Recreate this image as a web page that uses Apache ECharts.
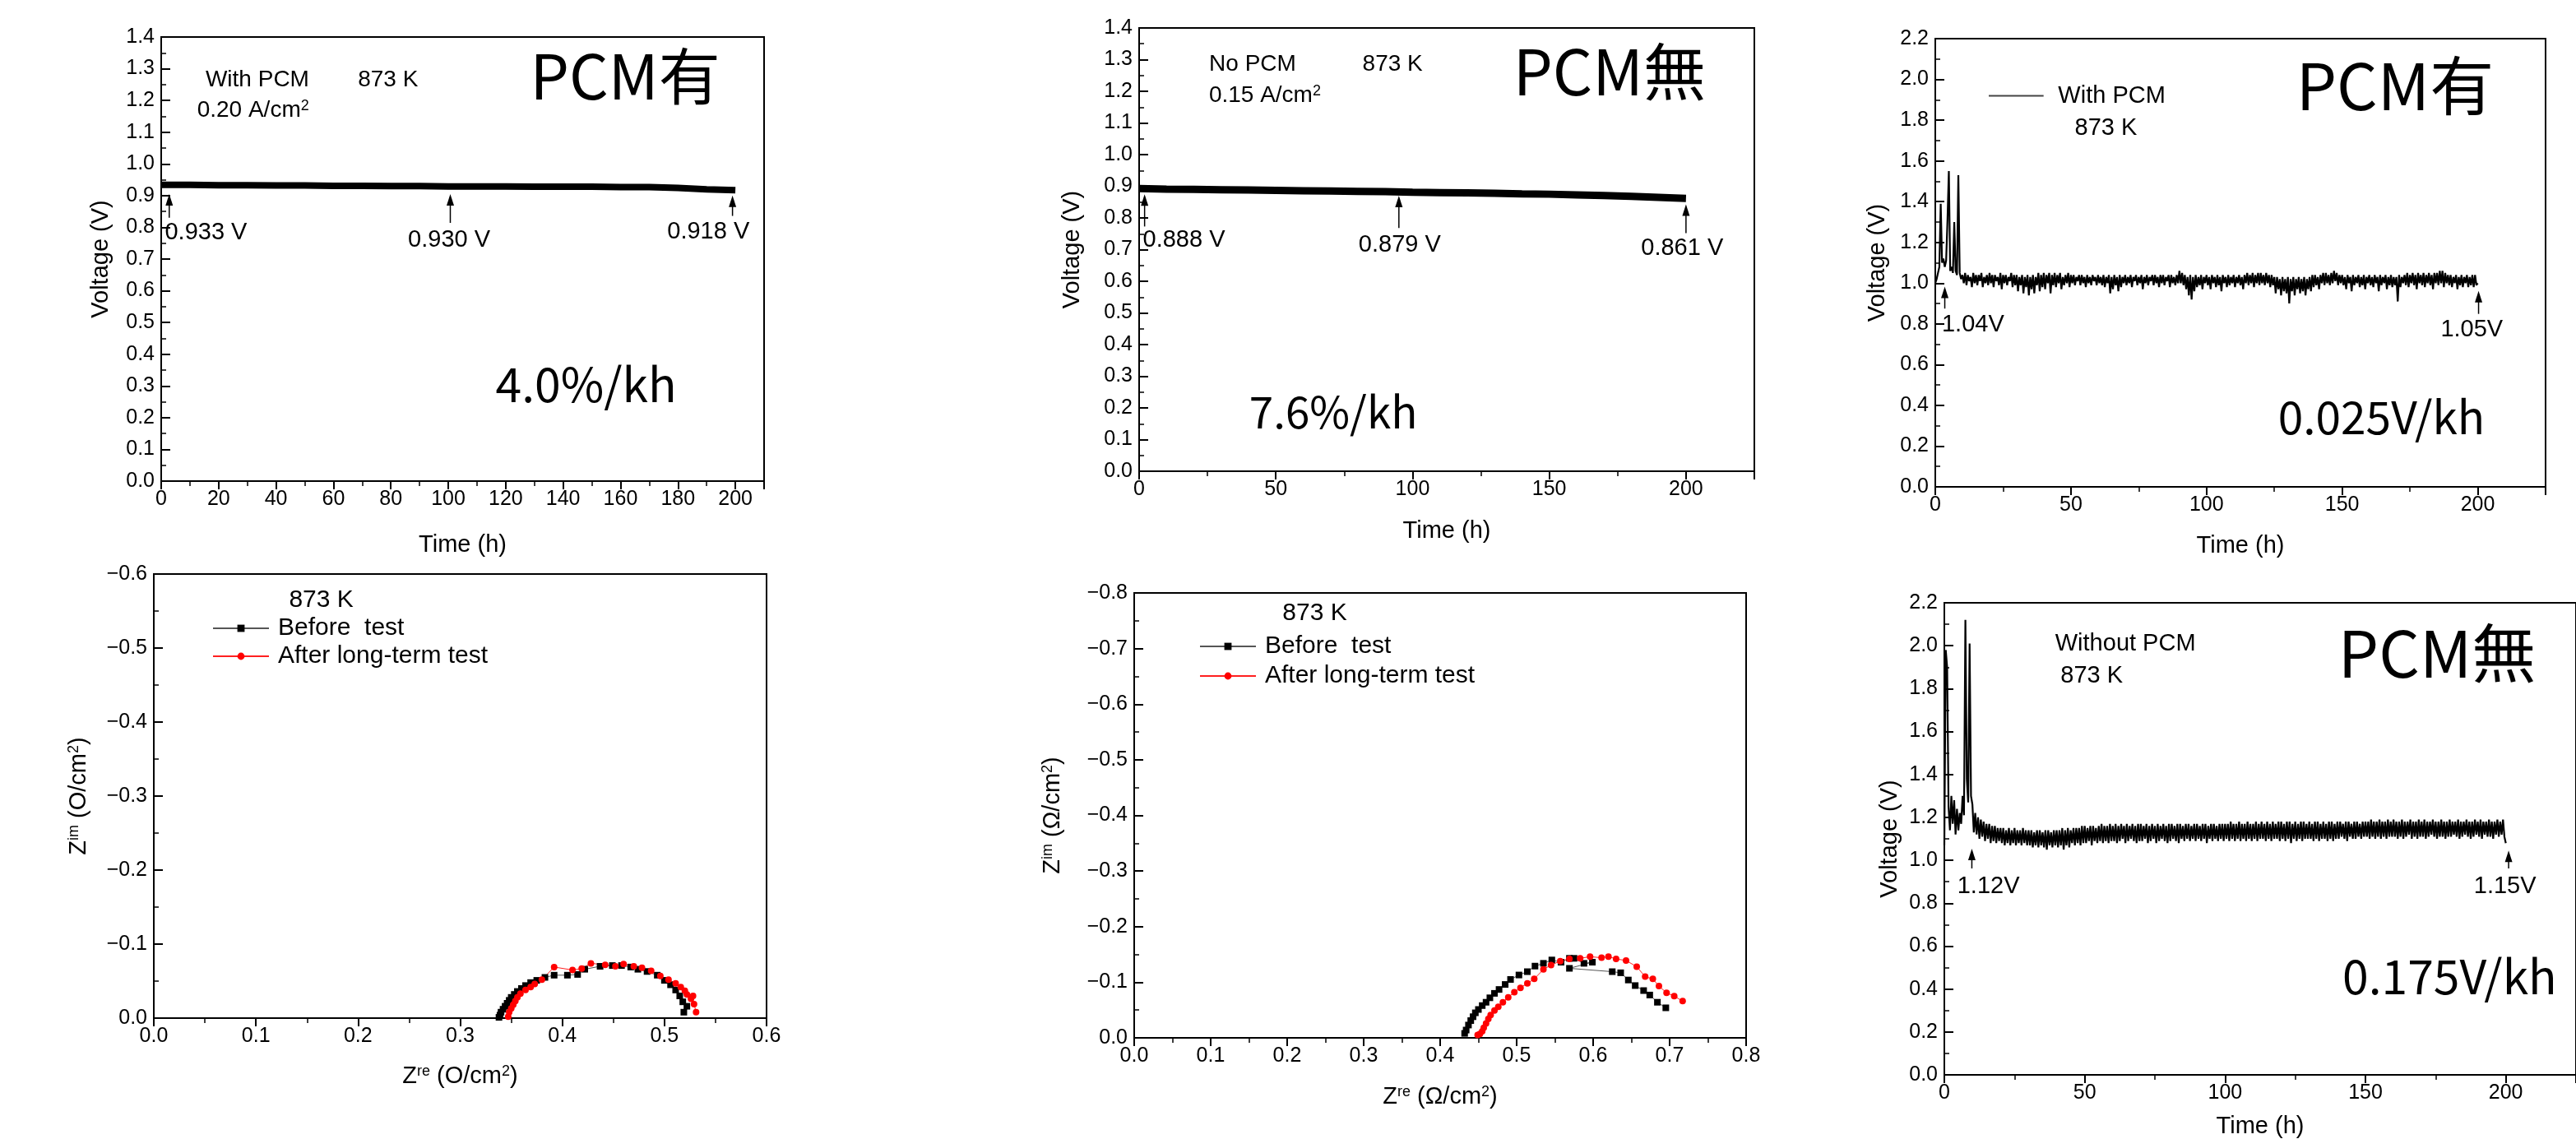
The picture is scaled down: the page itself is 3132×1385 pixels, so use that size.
<!DOCTYPE html>
<html><head><meta charset="utf-8">
<script src="https://cdn.jsdelivr.net/npm/echarts/dist/echarts.min.js"></script>
<style>html,body{margin:0;padding:0;background:#fff}#c{width:3132px;height:1385px}</style>
</head><body><div id="c"></div>
<script>
// ---------------- DATA ----------------
// Panel 1: With PCM, 0.20 A/cm2 (time h, voltage V)
const p1Time = [0,10,20,30,40,50,60,70,80,90,100,110,120,130,140,150,160,170,180,190,200];
const p1Volt = [0.934,0.934,0.933,0.933,0.932,0.932,0.931,0.931,0.930,0.930,0.929,0.929,0.929,0.928,0.928,0.928,0.927,0.927,0.924,0.920,0.917];
// Panel 2: No PCM, 0.15 A/cm2
const p2Time = [0,10,20,30,40,50,60,70,80,90,100,110,120,130,140,150,160,170,180,190,200];
const p2Volt = [0.893,0.891,0.890,0.889,0.888,0.887,0.886,0.885,0.884,0.883,0.881,0.880,0.879,0.878,0.876,0.875,0.873,0.871,0.868,0.865,0.862];
// Panel 3: With PCM, noisy record sampled every 0.5 h from 0 to 200 h
const SAMPLE_STEP_H = 0.5;
const p3Volt = (
"1.00 1.02 1.05 1.08 1.39 1.10 1.12 1.08 1.11 1.31 1.55 1.06 1.08 1.05 1.30 1.06 1.04 1.53 1.05 1.02 " +
"1.04 1.00 1.05 0.99 1.04 1.01 1.03 0.98 1.05 1.00 1.04 0.99 1.04 1.01 1.05 0.98 1.03 1.00 1.04 0.99 " +
"1.05 1.00 1.04 0.98 1.04 1.01 1.03 0.99 1.05 0.97 1.04 1.00 1.04 0.99 1.03 1.01 1.05 0.98 1.04 0.99 " +
"1.04 0.96 1.03 0.99 1.04 0.95 1.03 0.98 1.04 0.94 1.03 0.97 1.04 0.95 1.03 0.99 1.05 0.96 1.04 0.98 " +
"1.05 0.97 1.04 1.00 1.05 0.95 1.04 0.99 1.05 0.98 1.04 1.00 1.05 0.97 1.03 0.99 1.04 1.00 1.05 0.98 " +
"1.04 1.00 1.04 0.99 1.03 1.01 1.04 0.99 1.04 1.00 1.03 0.98 1.04 1.00 1.03 0.99 1.04 1.01 1.03 0.99 " +
"1.04 1.00 1.03 0.99 1.04 0.98 1.03 1.00 1.04 0.95 1.03 0.97 1.04 0.99 1.03 0.96 1.04 0.98 1.03 1.00 " +
"1.04 0.99 1.03 1.00 1.04 0.98 1.03 1.01 1.04 0.99 1.03 1.00 1.04 0.97 1.03 1.00 1.04 0.99 1.03 1.01 " +
"1.04 0.99 1.04 1.00 1.03 0.98 1.04 1.00 1.04 0.99 1.03 1.01 1.04 0.98 1.04 1.00 1.03 0.99 1.04 1.00 " +
"1.06 1.00 1.05 0.99 1.04 0.97 1.03 0.94 1.04 0.92 1.03 0.96 1.04 0.98 1.03 0.99 1.04 0.97 1.03 1.00 " +
"1.04 0.99 1.03 0.97 1.04 1.00 1.03 0.98 1.04 0.99 1.03 0.96 1.04 1.00 1.03 0.98 1.04 0.99 1.03 1.00 " +
"1.04 0.98 1.03 1.00 1.04 0.99 1.03 0.97 1.04 1.00 1.05 0.99 1.04 1.00 1.05 0.98 1.04 1.00 1.05 0.99 " +
"1.05 1.00 1.04 0.99 1.05 1.00 1.04 0.98 1.04 0.99 1.03 0.95 1.03 0.97 1.02 0.94 1.03 0.96 1.02 0.95 " +
"1.03 0.90 1.02 0.96 1.03 0.94 1.02 0.97 1.03 0.95 1.02 0.96 1.03 0.94 1.02 0.97 1.03 0.96 1.04 0.98 " +
"1.04 0.99 1.03 0.97 1.04 1.00 1.05 0.99 1.05 1.00 1.04 0.99 1.05 1.00 1.06 1.01 1.05 0.99 1.04 1.00 " +
"1.04 0.99 1.03 0.97 1.04 1.00 1.03 0.96 1.04 0.99 1.03 1.00 1.04 0.98 1.03 0.99 1.04 0.97 1.03 1.00 " +
"1.04 0.99 1.03 0.98 1.04 1.00 1.03 0.96 1.04 0.99 1.03 1.00 1.04 0.97 1.03 0.99 1.04 0.98 1.03 0.99 " +
"1.03 0.91 1.04 0.98 1.03 1.00 1.04 0.99 1.05 0.98 1.04 1.00 1.05 0.99 1.04 0.97 1.05 1.00 1.04 0.99 " +
"1.05 0.98 1.04 1.00 1.05 0.99 1.04 0.97 1.05 1.00 1.05 0.99 1.06 1.00 1.06 0.98 1.05 1.00 1.04 0.99 " +
"1.04 0.98 1.03 1.00 1.04 0.97 1.03 0.99 1.04 0.98 1.03 1.00 1.04 0.98 1.03 0.99 1.04 0.98 1.04 0.99 " +
"1.00").trim().split(/\s+/).map(Number);
// Panel 6: Without PCM, noisy record sampled every 0.5 h
const p6Volt = (
"1.07 1.98 1.90 1.25 1.14 1.30 1.17 1.28 1.12 1.24 1.14 1.22 1.17 1.30 1.21 2.12 1.38 1.27 2.01 1.30 " +
"1.26 1.13 1.22 1.12 1.20 1.10 1.19 1.11 1.18 1.09 1.17 1.10 1.17 1.08 1.16 1.09 1.16 1.08 1.15 1.09 " +
"1.15 1.08 1.15 1.07 1.14 1.08 1.15 1.07 1.14 1.08 1.15 1.07 1.14 1.08 1.14 1.07 1.15 1.08 1.14 1.07 " +
"1.14 1.07 1.14 1.06 1.13 1.07 1.14 1.06 1.14 1.07 1.13 1.06 1.14 1.05 1.14 1.07 1.13 1.06 1.14 1.07 " +
"1.14 1.06 1.14 1.07 1.15 1.05 1.14 1.07 1.15 1.06 1.14 1.08 1.15 1.07 1.15 1.08 1.15 1.07 1.16 1.08 " +
"1.16 1.08 1.15 1.09 1.16 1.07 1.16 1.09 1.15 1.08 1.16 1.09 1.17 1.08 1.16 1.09 1.16 1.08 1.17 1.09 " +
"1.16 1.09 1.17 1.08 1.16 1.09 1.17 1.10 1.16 1.08 1.17 1.09 1.16 1.10 1.17 1.09 1.16 1.08 1.17 1.09 " +
"1.17 1.09 1.16 1.10 1.17 1.08 1.16 1.09 1.17 1.10 1.16 1.08 1.17 1.09 1.16 1.10 1.17 1.09 1.16 1.08 " +
"1.17 1.09 1.17 1.10 1.16 1.09 1.17 1.08 1.17 1.10 1.16 1.09 1.17 1.10 1.17 1.09 1.16 1.10 1.17 1.09 " +
"1.17 1.10 1.16 1.09 1.17 1.10 1.17 1.08 1.16 1.10 1.17 1.09 1.17 1.10 1.16 1.09 1.17 1.10 1.17 1.09 " +
"1.17 1.10 1.17 1.09 1.18 1.10 1.17 1.09 1.17 1.10 1.18 1.09 1.17 1.10 1.17 1.09 1.18 1.10 1.17 1.09 " +
"1.17 1.10 1.18 1.09 1.17 1.10 1.18 1.10 1.17 1.09 1.18 1.10 1.17 1.09 1.18 1.10 1.17 1.10 1.18 1.09 " +
"1.18 1.10 1.17 1.09 1.18 1.10 1.18 1.08 1.17 1.10 1.18 1.09 1.17 1.10 1.18 1.09 1.18 1.10 1.17 1.10 " +
"1.18 1.10 1.17 1.09 1.18 1.10 1.18 1.09 1.17 1.10 1.18 1.10 1.17 1.09 1.18 1.10 1.18 1.09 1.17 1.10 " +
"1.18 1.10 1.18 1.11 1.17 1.10 1.18 1.09 1.18 1.11 1.17 1.10 1.18 1.10 1.18 1.11 1.17 1.10 1.18 1.11 " +
"1.18 1.11 1.18 1.10 1.19 1.11 1.18 1.10 1.18 1.11 1.19 1.10 1.18 1.11 1.18 1.10 1.19 1.11 1.18 1.11 " +
"1.19 1.11 1.18 1.10 1.18 1.11 1.19 1.10 1.18 1.11 1.18 1.12 1.19 1.10 1.18 1.11 1.18 1.10 1.19 1.11 " +
"1.18 1.11 1.19 1.10 1.18 1.11 1.18 1.12 1.19 1.11 1.18 1.10 1.18 1.11 1.19 1.11 1.18 1.10 1.18 1.11 " +
"1.19 1.11 1.18 1.12 1.18 1.11 1.19 1.10 1.18 1.11 1.18 1.12 1.19 1.11 1.18 1.10 1.18 1.11 1.19 1.12 " +
"1.18 1.11 1.19 1.10 1.18 1.12 1.18 1.11 1.19 1.11 1.18 1.10 1.18 1.12 1.19 1.11 1.18 1.12 1.19 1.11 " +
"1.08").trim().split(/\s+/).map(Number);
// Panel 4: Nyquist, With PCM (Zre, Zim in ohm/cm2)
const p4BeforeRe = [0.338,0.339,0.340,0.342,0.344,0.346,0.348,0.350,0.353,0.356,0.360,0.364,0.369,0.375,0.383,0.392,0.405,0.415,0.422,0.437,0.449,0.458,0.467,0.474,0.483,0.493,0.500,0.506,0.511,0.515,0.518,0.522,0.519];
const p4BeforeIm = [-0.001,-0.004,-0.008,-0.012,-0.016,-0.020,-0.024,-0.028,-0.032,-0.036,-0.040,-0.044,-0.048,-0.051,-0.055,-0.058,-0.058,-0.059,-0.066,-0.070,-0.071,-0.071,-0.069,-0.066,-0.063,-0.058,-0.051,-0.045,-0.038,-0.030,-0.022,-0.016,-0.008];
const p4AfterRe = [0.347,0.348,0.350,0.352,0.354,0.356,0.359,0.364,0.369,0.373,0.380,0.392,0.410,0.419,0.428,0.442,0.452,0.460,0.470,0.478,0.487,0.496,0.504,0.511,0.516,0.520,0.522,0.528,0.526,0.529,0.531];
const p4AfterIm = [-0.002,-0.008,-0.013,-0.018,-0.023,-0.028,-0.033,-0.038,-0.042,-0.046,-0.052,-0.069,-0.065,-0.067,-0.074,-0.072,-0.070,-0.073,-0.070,-0.068,-0.064,-0.057,-0.052,-0.047,-0.042,-0.037,-0.032,-0.030,-0.026,-0.019,-0.008];
// Panel 5: Nyquist, No PCM
const p5BeforeRe = [0.432,0.434,0.437,0.440,0.443,0.446,0.450,0.455,0.460,0.465,0.471,0.477,0.485,0.492,0.503,0.514,0.524,0.535,0.546,0.558,0.569,0.575,0.588,0.599,0.569,0.625,0.636,0.646,0.655,0.666,0.674,0.684,0.695];
const p5BeforeIm = [-0.008,-0.014,-0.023,-0.031,-0.038,-0.045,-0.051,-0.058,-0.064,-0.072,-0.080,-0.087,-0.096,-0.105,-0.113,-0.119,-0.129,-0.134,-0.140,-0.136,-0.143,-0.143,-0.134,-0.136,-0.125,-0.119,-0.117,-0.104,-0.094,-0.085,-0.077,-0.064,-0.054];
const p5AfterRe = [0.449,0.452,0.455,0.457,0.460,0.463,0.466,0.471,0.476,0.482,0.489,0.497,0.505,0.514,0.523,0.535,0.545,0.557,0.569,0.583,0.596,0.611,0.620,0.630,0.643,0.657,0.668,0.678,0.686,0.696,0.706,0.717];
const p5AfterIm = [-0.005,-0.007,-0.012,-0.018,-0.026,-0.034,-0.041,-0.049,-0.056,-0.064,-0.073,-0.082,-0.090,-0.098,-0.106,-0.123,-0.131,-0.138,-0.142,-0.143,-0.146,-0.144,-0.146,-0.142,-0.139,-0.128,-0.110,-0.106,-0.093,-0.081,-0.075,-0.066];
// Annotated values
const p1Marks = [{t:2.8, v:'0.933 V'}, {t:100.7, v:'0.930 V'}, {t:199, v:'0.918 V'}];
const p2Marks = [{t:2, v:'0.888 V'}, {t:95, v:'0.879 V'}, {t:200, v:'0.861 V'}];
const p3Marks = [{t:3.5, v:'1.04V'}, {t:200.3, v:'1.05V'}];
const p6Marks = [{t:9.8, v:'1.12V'}, {t:201, v:'1.15V'}];

// ---------------- HELPERS ----------------
const TXT = "'Liberation Sans', Arial, sans-serif";
const CJK = "'Noto Sans CJK JP', 'Noto Sans CJK SC', sans-serif";
const TICK_FS = 25, NAME_FS = 29;
const pairs = (xs, ys) => xs.map((x, i) => [x, ys[i]]);
const sampled = (vs) => vs.map((v, i) => [i * SAMPLE_STEP_H, v]);
const SUP = {s: {fontSize: 18, verticalAlign: 'top', fontFamily: TXT, color: '#000'}};
const f1 = v => (v < -1e-9 ? '\u2212' : '') + Math.abs(v).toFixed(1);
const fi = v => String(Math.round(v));

function xAx(gi, min, max, interval, fmt, name, gap, showMax) {
  return {type: 'value', gridIndex: gi, min, max, interval, position: 'bottom',
    axisLine: {onZero: false, lineStyle: {color: '#000', width: 2}},
    axisTick: {inside: false, length: 10, lineStyle: {color: '#000', width: 2}},
    minorTick: {show: true, splitNumber: 2, length: 6, lineStyle: {color: '#000', width: 1.5}},
    splitLine: {show: false},
    axisLabel: {color: '#000', fontFamily: TXT, fontSize: TICK_FS, margin: 10, formatter: fmt, showMaxLabel: showMax},
    name, nameLocation: 'middle', nameGap: gap,
    nameTextStyle: {color: '#000', fontFamily: TXT, fontSize: NAME_FS, rich: SUP}};
}
function yAx(gi, min, max, interval, fmt, name, gap, inverse) {
  return {type: 'value', gridIndex: gi, min, max, interval, inverse: !!inverse, position: 'left',
    axisLine: {onZero: false, lineStyle: {color: '#000', width: 2}},
    axisTick: {inside: true, length: 11, lineStyle: {color: '#000', width: 2}},
    minorTick: {show: true, splitNumber: 2, length: 6, lineStyle: {color: '#000', width: 1.5}},
    splitLine: {show: false},
    axisLabel: {color: '#000', fontFamily: TXT, fontSize: TICK_FS, margin: 8, formatter: fmt},
    name, nameLocation: 'middle', nameGap: gap,
    nameTextStyle: {color: '#000', fontFamily: TXT, fontSize: NAME_FS, rich: SUP}};
}
const gridBox = (left, top, width, height) => ({left, top, width, height, show: true,
  borderColor: '#000', borderWidth: 2, backgroundColor: 'transparent'});

const chart = echarts.init(document.getElementById('c'), null, {renderer: 'canvas'});
chart.setOption({
  backgroundColor: '#fff',
  animation: false,
  grid: [
    gridBox(196, 45, 733, 540),
    gridBox(1385, 34, 748, 539),
    gridBox(2353, 47, 742, 545),
    gridBox(187, 698, 745, 540),
    gridBox(1379, 721, 744, 541),
    gridBox(2364, 733, 782, 574)
  ],
  xAxis: [
    xAx(0, 0, 210, 20, fi, 'Time (h)', 63, false),
    xAx(1, 0, 225, 50, fi, 'Time (h)', 58, false),
    xAx(2, 0, 225, 50, fi, 'Time (h)', 57, false),
    xAx(3, 0, 0.6, 0.1, f1, 'Z{s|re} (O/cm{s|2})', 56, true),
    xAx(4, 0, 0.8, 0.1, f1, 'Z{s|re} (\u03A9/cm{s|2})', 57, true),
    xAx(5, 0, 225, 50, fi, 'Time (h)', 48, false)
  ],
  yAxis: [
    yAx(0, 0, 1.4, 0.1, f1, 'Voltage (V)', 59),
    yAx(1, 0, 1.4, 0.1, f1, 'Voltage (V)', 67),
    yAx(2, 0, 2.2, 0.2, f1, 'Voltage (V)', 56),
    yAx(3, -0.6, 0, 0.1, f1, 'Z{s|im} (O/cm{s|2})', 77, true),
    yAx(4, -0.8, 0, 0.1, f1, 'Z{s|im} (\u03A9/cm{s|2})', 85, true),
    yAx(5, 0, 2.2, 0.2, f1, 'Voltage (V)', 52)
  ],
  legend: [
    {data: ['With PCM'], left: 2413, top: 97, orient: 'vertical', selectedMode: false,
     icon: 'path://M0,0 L100,0 L100,3 L0,3 Z', itemWidth: 68, itemHeight: 2, itemStyle: {color: '#444'},
     textStyle: {color: '#000', fontFamily: TXT, fontSize: 29, padding: [0, 0, 0, 12]}},
    {data: ['Before  test', 'After long-term test'], left: 253, top: 744, orient: 'vertical', selectedMode: false,
     itemGap: 4, itemWidth: 68, itemHeight: 11, textStyle: {color: '#000', fontFamily: TXT, fontSize: 30, padding: [0, 0, 0, 6]}},
    {data: ['Before  test', 'After long-term test'], left: 1453, top: 766, orient: 'vertical', selectedMode: false,
     itemGap: 6, itemWidth: 68, itemHeight: 11, textStyle: {color: '#000', fontFamily: TXT, fontSize: 30, padding: [0, 0, 0, 6]}}
  ],
  series: [
    {name: 'With PCM 0.20', type: 'line', xAxisIndex: 0, yAxisIndex: 0, data: pairs(p1Time, p1Volt),
     symbol: 'none', lineStyle: {color: '#000', width: 8}, itemStyle: {color: '#000'}},
    {name: 'No PCM 0.15', type: 'line', xAxisIndex: 1, yAxisIndex: 1, data: pairs(p2Time, p2Volt),
     symbol: 'none', lineStyle: {color: '#000', width: 9}, itemStyle: {color: '#000'}},
    {name: 'With PCM', type: 'line', xAxisIndex: 2, yAxisIndex: 2, data: sampled(p3Volt),
     symbol: 'none', sampling: null, lineStyle: {color: '#000', width: 2.2}, itemStyle: {color: '#000'}},
    {name: 'Before  test', type: 'line', xAxisIndex: 3, yAxisIndex: 3, data: pairs(p4BeforeRe, p4BeforeIm),
     symbol: 'rect', symbolSize: 8, lineStyle: {color: '#555', width: 1}, itemStyle: {color: '#000'}},
    {name: 'After long-term test', type: 'line', xAxisIndex: 3, yAxisIndex: 3, data: pairs(p4AfterRe, p4AfterIm),
     symbol: 'circle', symbolSize: 8, lineStyle: {color: '#ff2020', width: 1}, itemStyle: {color: '#ff0000'}},
    {name: 'Before  test', type: 'line', xAxisIndex: 4, yAxisIndex: 4, data: pairs(p5BeforeRe, p5BeforeIm),
     symbol: 'rect', symbolSize: 8, lineStyle: {color: '#555', width: 1}, itemStyle: {color: '#000'}},
    {name: 'After long-term test', type: 'line', xAxisIndex: 4, yAxisIndex: 4, data: pairs(p5AfterRe, p5AfterIm),
     symbol: 'circle', symbolSize: 8, lineStyle: {color: '#ff2020', width: 1}, itemStyle: {color: '#ff0000'}},
    {name: 'Without PCM', type: 'line', xAxisIndex: 5, yAxisIndex: 5, data: sampled(p6Volt),
     symbol: 'none', sampling: null, lineStyle: {color: '#000', width: 2.2}, itemStyle: {color: '#000'}}
  ]
});

// ---------------- ANNOTATIONS (placed in data space) ----------------
const notes = [
  {g: 0, x: 33.5, y: 1.265, t: 'With PCM', s: 28, f: TXT},
  {g: 0, x: 79, y: 1.265, t: '873 K', s: 28, f: TXT},
  {g: 0, x: 32, y: 1.169, t: '0.20 A/cm{s|2}', s: 28, f: TXT},
  {g: 0, x: 161.6, y: 1.276, t: 'PCM有', s: 75, f: CJK},
  {g: 0, x: 148, y: 0.304, t: '4.0%/kh', s: 57, f: CJK},
  {g: 0, x: 15.6, y: 0.782, t: p1Marks[0].v, s: 29, f: TXT},
  {g: 0, x: 100.3, y: 0.76, t: p1Marks[1].v, s: 29, f: TXT},
  {g: 0, x: 190.6, y: 0.785, t: p1Marks[2].v, s: 29, f: TXT},
  {g: 1, x: 41.5, y: 1.284, t: 'No PCM', s: 28, f: TXT},
  {g: 1, x: 92.7, y: 1.284, t: '873 K', s: 28, f: TXT},
  {g: 1, x: 46, y: 1.187, t: '0.15 A/cm{s|2}', s: 28, f: TXT},
  {g: 1, x: 172, y: 1.262, t: 'PCM無', s: 76, f: CJK},
  {g: 1, x: 71, y: 0.188, t: '7.6%/kh', s: 53, f: CJK},
  {g: 1, x: 16.4, y: 0.730, t: p2Marks[0].v, s: 29, f: TXT},
  {g: 1, x: 95.3, y: 0.714, t: p2Marks[1].v, s: 29, f: TXT},
  {g: 1, x: 198.6, y: 0.703, t: p2Marks[2].v, s: 29, f: TXT},
  {g: 2, x: 62.9, y: 1.758, t: '873 K', s: 29, f: TXT},
  {g: 2, x: 169.5, y: 1.97, t: 'PCM有', s: 78, f: CJK},
  {g: 2, x: 164.5, y: 0.341, t: '0.025V/kh', s: 55, f: CJK},
  {g: 2, x: 13.9, y: 0.796, t: p3Marks[0].v, s: 29, f: TXT},
  {g: 2, x: 197.8, y: 0.77, t: p3Marks[1].v, s: 29, f: TXT},
  {g: 3, x: 0.164, y: -0.565, t: '873 K', s: 30, f: TXT},
  {g: 4, x: 0.236, y: -0.764, t: '873 K', s: 30, f: TXT},
  {g: 5, x: 64.5, y: 2.008, t: 'Without PCM', s: 29, f: TXT},
  {g: 5, x: 52.5, y: 1.857, t: '873 K', s: 29, f: TXT},
  {g: 5, x: 175.5, y: 1.966, t: 'PCM無', s: 78, f: CJK},
  {g: 5, x: 180, y: 0.46, t: '0.175V/kh', s: 57, f: CJK},
  {g: 5, x: 15.7, y: 0.878, t: p6Marks[0].v, s: 29, f: TXT},
  {g: 5, x: 199.7, y: 0.878, t: p6Marks[1].v, s: 29, f: TXT}
];
const arrows = [
  {g: 0, x: p1Marks[0].t, y0: 0.830, y1: 0.905},
  {g: 0, x: p1Marks[1].t, y0: 0.814, y1: 0.905},
  {g: 0, x: p1Marks[2].t, y0: 0.836, y1: 0.900},
  {g: 1, x: p2Marks[0].t, y0: 0.773, y1: 0.875},
  {g: 1, x: p2Marks[1].t, y0: 0.768, y1: 0.870},
  {g: 1, x: p2Marks[2].t, y0: 0.752, y1: 0.843},
  {g: 2, x: p3Marks[0].t, y0: 0.875, y1: 0.983},
  {g: 2, x: p3Marks[1].t, y0: 0.849, y1: 0.962},
  {g: 5, x: p6Marks[0].t, y0: 0.962, y1: 1.054},
  {g: 5, x: p6Marks[1].t, y0: 0.962, y1: 1.045}
];
const gfx = [];
for (const n of notes) {
  const p = chart.convertToPixel({gridIndex: n.g}, [n.x, n.y]);
  gfx.push({type: 'text', x: p[0], y: p[1], z: 10, style: {text: n.t, fontSize: n.s, fontFamily: n.f, fill: '#000',
    align: 'center', verticalAlign: 'middle', textAlign: 'center', textVerticalAlign: 'middle',
    rich: {s: {fontSize: Math.round(n.s * 0.65), verticalAlign: 'top', fontFamily: n.f, fill: '#000'}}}});
}
for (const a of arrows) {
  const p0 = chart.convertToPixel({gridIndex: a.g}, [a.x, a.y0]);
  const p1 = chart.convertToPixel({gridIndex: a.g}, [a.x, a.y1]);
  gfx.push({type: 'line', z: 10, shape: {x1: p0[0], y1: p0[1], x2: p1[0], y2: p1[1] + 10}, style: {stroke: '#000', lineWidth: 1.5}});
  gfx.push({type: 'polygon', z: 10, shape: {points: [[p1[0] - 4.5, p1[1] + 14], [p1[0] + 4.5, p1[1] + 14], [p1[0], p1[1]]]}, style: {fill: '#000'}});
}
chart.setOption({graphic: gfx});
</script>
</body></html>
